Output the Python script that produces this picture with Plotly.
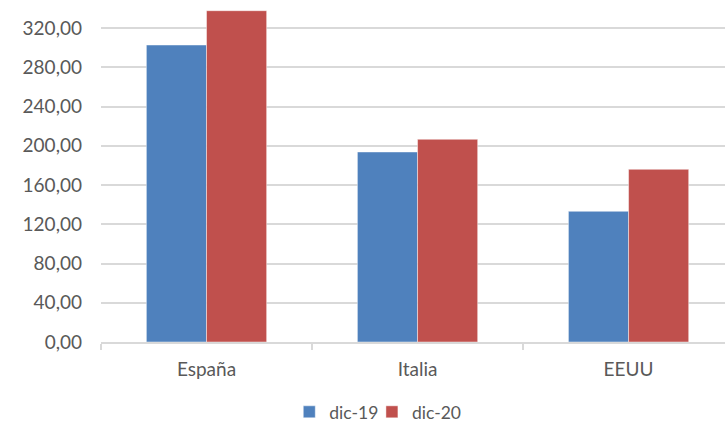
import plotly.graph_objects as go

# Countries and the two December snapshots
paises = ["España", "Italia", "EEUU"]
dic_19 = [302.7, 193.7, 133.2]
dic_20 = [337.7, 206.6, 176.0]
y_ticks = [0, 40, 80, 120, 160, 200, 240, 280, 320]
y_tick_text = ["0,00", "40,00", "80,00", "120,00", "160,00", "200,00", "240,00", "280,00", "320,00"]

AZUL = "#4F81BD"
ROJO = "#C0504D"
GRIS_TEXTO = "#595959"
GRIS_LINEA = "#D9D9D9"
FUENTE = "Lato, Liberation Sans, Arial, sans-serif"

fig = go.Figure()
fig.add_trace(go.Bar(
    name="dic-19", x=paises, y=dic_19, legend="legend",
    marker=dict(color=AZUL, line=dict(color="rgba(255,255,255,0.45)", width=1)),
))
fig.add_trace(go.Bar(
    name="dic-20", x=paises, y=dic_20, legend="legend2",
    marker=dict(color=ROJO, line=dict(color="rgba(255,255,255,0.45)", width=1)),
))

# one legend box per series so the two entries sit close together
legend_style = dict(
    orientation="h", xref="container", yref="container",
    y=0.033, xanchor="left", yanchor="middle",
    font=dict(size=17.5, color=GRIS_TEXTO), itemwidth=30,
    bgcolor="rgba(0,0,0,0)",
)

fig.update_layout(
    width=725, height=426,
    margin=dict(l=101, r=0, t=0, b=84),
    paper_bgcolor="white", plot_bgcolor="white",
    barmode="group", bargap=0.43, bargroupgap=0,
    font=dict(family=FUENTE, color=GRIS_TEXTO, size=19),
    showlegend=True,
    legend=dict(x=0.399, **legend_style),
    legend2=dict(x=0.513, **legend_style),
    xaxis=dict(
        range=[-0.5, 2.457],
        showgrid=False, showline=True, linecolor=GRIS_LINEA, linewidth=1.5,
        ticks="outside", tickson="boundaries", ticklen=6, tickcolor=GRIS_LINEA,
        tickwidth=1.5, tickfont=dict(size=19, color=GRIS_TEXTO),
        ticklabelstandoff=9, fixedrange=True,
    ),
    yaxis=dict(
        range=[0, 348.6], tickvals=y_ticks, ticktext=y_tick_text,
        showgrid=True, gridcolor=GRIS_LINEA, gridwidth=1.5,
        zeroline=False, showline=False, ticks="", ticklabelstandoff=18,
        tickfont=dict(size=19, color=GRIS_TEXTO),
    ),
)

fig.write_html("out.html")
